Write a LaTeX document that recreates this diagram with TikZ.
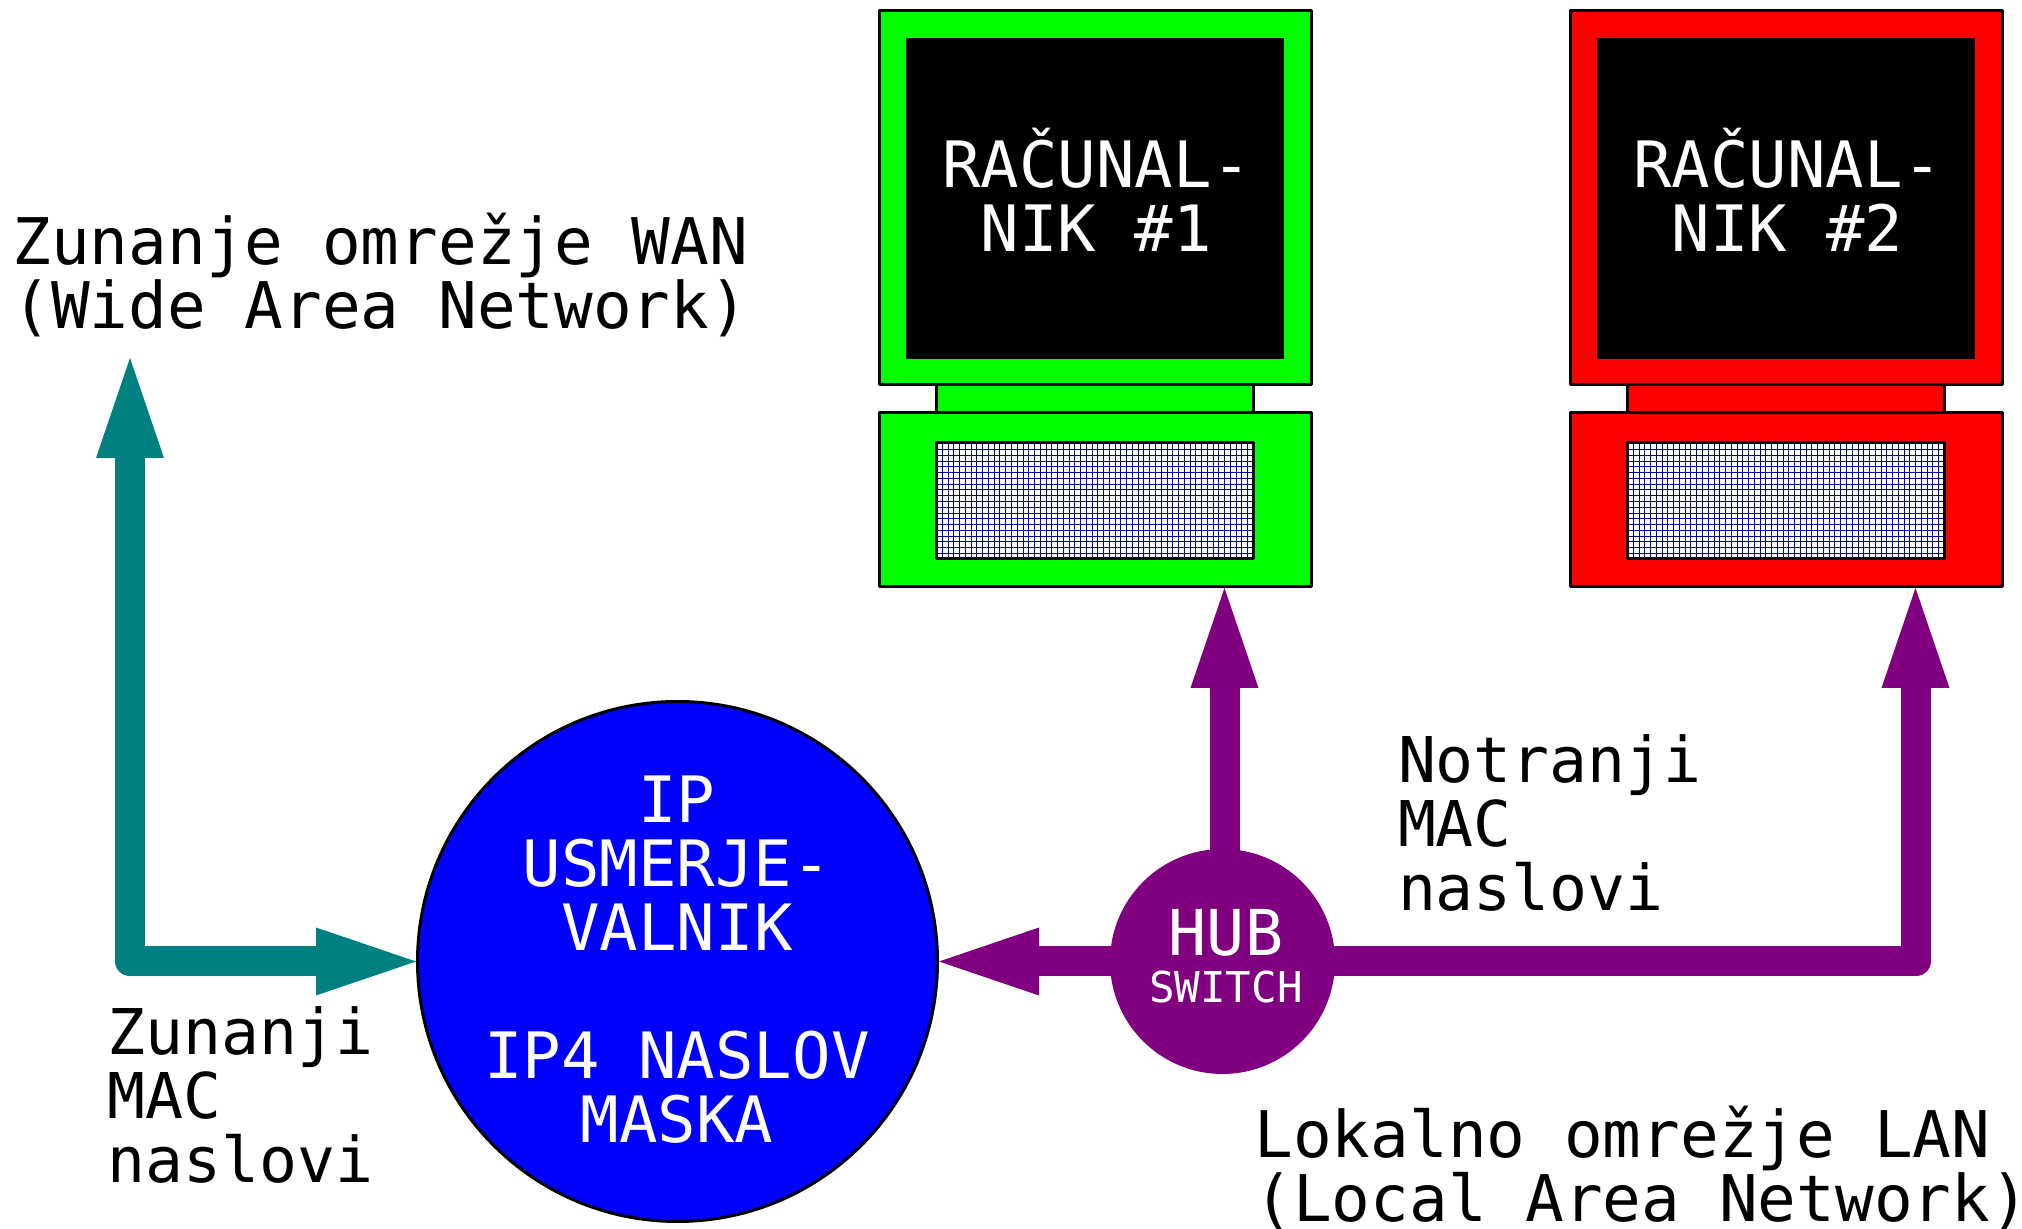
\documentclass[tikz,border=0pt]{standalone}
\usepackage{fontspec}
\setmainfont{DejaVu Sans Mono}
\usetikzlibrary{arrows.meta}
\definecolor{wanteal}{RGB}{0,128,128}
\definecolor{lanpurple}{RGB}{128,0,128}
\definecolor{gridblue}{RGB}{0,0,150}
\newcommand{\bigfont}{\fontsize{18.2}{18.2}\selectfont}
\newcommand{\widefont}{\fontsize{18.3}{18.2}\selectfont}
\newcommand{\narrowfont}{\fontsize{17.95}{18.2}\selectfont}
\newcommand{\smallfont}{\fontsize{12.1}{13.4}\selectfont}
\tikzset{
  box/.style={draw=black,line width=.03cm,line join=round,inner sep=0,outer sep=0},
  label/.style={font=\widefont,align=left,inner sep=0,outer sep=0},
  inlabel/.style={font=\bigfont,align=center,inner sep=0,text=white},
  wanline/.style={<->,draw=wanteal,line width=.3cm,line join=round},
  lanline/.style={->,draw=lanpurple,line width=.3cm,line join=round}
}
\begin{document}
\begin{tikzpicture}[>={Triangle[length=1cm,width=.68cm,line width=0pt]}]
\useasboundingbox (0,0) rectangle (20.22,12.29);
% Computers
\foreach \sx/\col/\nr in {0/green/1,6.91/red/2}{
\begin{scope}[shift={(\sx,0)}]
  \node[box,fill=\col,minimum width=4.32cm,minimum height=3.74cm] (monitor\nr) at (10.95,10.31) {};
  \node[fill=black,inner sep=0,outer sep=0,minimum width=3.78cm,minimum height=3.21cm] (screen\nr) at (10.95,10.305) {};
  \node[inlabel] (name\nr) at (10.965,10.39) {RAČUNAL-\\NIK \#\nr};
  \node[box,fill=\col,minimum width=3.17cm,minimum height=.28cm] (stand\nr) at (10.95,8.30) {};
  \node[box,fill=\col,minimum width=4.32cm,minimum height=1.74cm] (base\nr) at (10.95,7.29) {};
  % Keyboard
  \node[fill=white,inner sep=0,outer sep=0,minimum width=3.17cm,minimum height=1.16cm] (keys\nr) at (10.95,7.28) {};
  \draw[gridblue,line width=.008cm,step=.0576,shift={(keys\nr.south west)}] (0,0) grid (3.17,1.16);
  \draw[black,line width=.03cm,line join=round] (keys\nr.south west) rectangle (keys\nr.north east);
  \coordinate (tip\nr) at (12.245,6.41);
\end{scope}
}
% Router and hub
\node[circle,draw=black,fill=blue,line width=.03cm,inner sep=0,minimum size=5.2cm] (router) at (6.775,2.675) {};
\node[inlabel] (routername) at (6.77,2.69) {IP\\USMERJE-\\VALNIK\\ \\IP4 NASLOV\\MASKA};
\node[circle,fill=lanpurple,minimum size=2.25cm,outer sep=-.03cm,inner sep=0] (hub) at (12.225,2.675) {};
\node[inlabel,font=\fontsize{18}{13.4}\selectfont] (hubname) at (12.26,2.73) {HUB\\{\smallfont SWITCH}};
% Connections
\coordinate (wantip) at (1.30,8.71);
\draw[wanline] (wantip) -- (wantip |- router) -- (router);
\draw[lanline] (hub) -- (router);
\draw[lanline] (hub.north -| tip1) -- (tip1);
\draw[lanline] (hub) -- (tip2 |- hub) -- (tip2);
% Labels
\node[label,anchor=north west] (wan) at (.125,10.16) {Zunanje omrežje WAN\\(Wide Area Network)};
\node[label,anchor=north west,font=\narrowfont] (outer) at (1.075,2.22) {Zunanji\\MAC\\naslovi};
\node[label,anchor=north west,font=\narrowfont] (inner) at (13.98,4.945) {Notranji\\MAC\\naslovi};
\node[label,anchor=north west] (lan) at (12.545,1.23) {Lokalno omrežje LAN\\(Local Area Network)};
\end{tikzpicture}
\end{document}
